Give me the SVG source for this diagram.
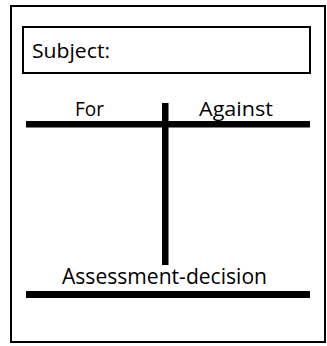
<svg xmlns="http://www.w3.org/2000/svg" width="327" height="346" viewBox="0 0 327 346">
  <style>
    .frame { fill: #fff; stroke: #000; stroke-width: 2; }
    .box { fill: none; stroke: #000; stroke-width: 2; }
    .bar { fill: #000; }
    .label { font-family: "Open Sans", "Noto Sans", sans-serif; fill: #000; }
  </style>
  <rect width="327" height="346" fill="#fff"/>

  <!-- outer sheet -->
  <g id="sheet">
    <rect class="frame" x="11" y="6" width="314" height="336"/>
  </g>

  <!-- subject field -->
  <g id="subject">
    <rect class="box" x="23" y="27" width="287" height="46"/>
    <text class="label" x="32" y="57.5" font-size="20" textLength="78" lengthAdjust="spacingAndGlyphs">Subject:</text>
  </g>

  <!-- column headings -->
  <g id="for">
    <text class="label" x="75" y="115.5" font-size="20" textLength="29" lengthAdjust="spacingAndGlyphs">For</text>
  </g>
  <g id="against">
    <text class="label" x="199" y="115.5" font-size="20" textLength="74" lengthAdjust="spacingAndGlyphs">Against</text>
  </g>

  <!-- conclusion heading -->
  <g id="assessment">
    <text class="label" x="62" y="284" font-size="22" textLength="205" lengthAdjust="spacingAndGlyphs">Assessment-decision</text>
  </g>

  <!-- T-chart rules -->
  <g id="connectors">
    <rect class="bar" x="26" y="121" width="284" height="6.5"/>
    <rect class="bar" x="162" y="103" width="6.5" height="162"/>
    <rect class="bar" x="26" y="291" width="284" height="7"/>
  </g>
</svg>
